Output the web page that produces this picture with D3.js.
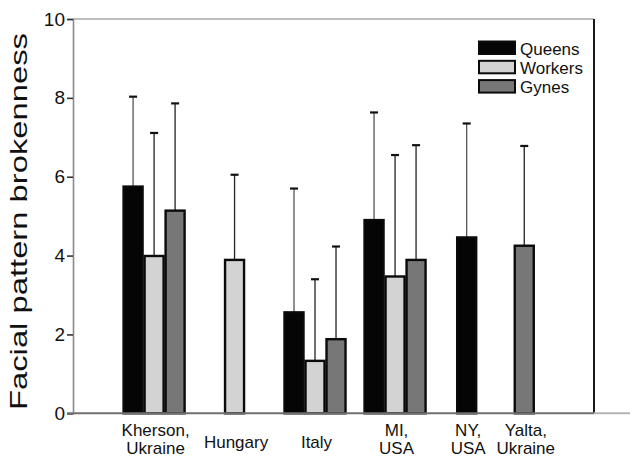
<!DOCTYPE html>
<html>
<head>
<meta charset="utf-8">
<script src="https://cdn.jsdelivr.net/npm/d3@7"></script>
<style>
  html, body { margin: 0; padding: 0; background: #fff; }
  svg { display: block; font-family: Arial, "Liberation Sans", sans-serif; }
</style>
</head>
<body>
<svg id="chart" width="630" height="461"></svg>
<script>
// Sites (two-line labels are split on "\n")
const sites = ["Kherson,\nUkraine", "Hungary", "Italy", "MI,\nUSA", "NY,\nUSA", "Yalta,\nUkraine"];
const castes = ["Queens", "Workers", "Gynes"];

// Mean facial pattern brokenness per site (null = not sampled)
const queensMean  = [5.75, null, 2.56, 4.90, 4.46, null];
const workersMean = [3.99, 3.89, 1.33, 3.47, null, null];
const gynesMean   = [5.14, null, 1.88, 3.89, null, 4.25];

// Upper end of the error bar (mean + SD)
const queensUpper  = [8.03, null, 5.70, 7.63, 7.35, null];
const workersUpper = [7.11, 6.05, 3.40, 6.55, null, null];
const gynesUpper   = [7.86, null, 4.23, 6.80, null, 6.78];

const yTicks = [0, 2, 4, 6, 8, 10];
const yLabel = "Facial pattern brokenness";

// ---- layout ----
const W = 630, H = 461;
const plot = { left: 73, right: 594, top: 19, bottom: 413.3 };
const barSlots = 24.8;                 // plot width measured in bar widths
const siteSlots = [3.86, 7.69, 11.52, 15.33, 18.74, 21.48]; // group centres, in bar widths
const fills = { Queens: "#050505", Workers: "#d3d3d3", Gynes: "#777777" };

const svg = d3.select("#chart");

const y = d3.scaleLinear().domain([0, 10]).range([plot.bottom, plot.top]);
const slot = d3.scaleLinear().domain([0, barSlots]).range([plot.left, plot.right]);
const barW = slot(1) - slot(0);
const siteX = d3.scaleOrdinal().domain(sites).range(siteSlots);

const means = { Queens: queensMean, Workers: workersMean, Gynes: gynesMean };
const uppers = { Queens: queensUpper, Workers: workersUpper, Gynes: gynesUpper };

// Flatten into one record per drawn bar, centring the bars present at each site
const bars = [];
sites.forEach((s, si) => {
  const present = castes.filter(c => means[c][si] != null);
  present.forEach((c, k) => {
    const centre = siteX(s) + (k - (present.length - 1) / 2);
    bars.push({ site: s, caste: c, mean: means[c][si], upper: uppers[c][si], centre });
  });
});

// ---- frame ----
svg.append("line").attr("x1", plot.left).attr("x2", plot.right)
  .attr("y1", plot.top).attr("y2", plot.top)
  .attr("stroke", "#a8a8a8").attr("stroke-width", 1.6);
svg.append("line").attr("x1", plot.right).attr("x2", plot.right)
  .attr("y1", plot.top).attr("y2", plot.bottom)
  .attr("stroke", "#1a1a1a").attr("stroke-width", 2);

// ---- error bars (upward only) ----
const eb = svg.append("g").attr("class", "error-bars");
eb.selectAll("line.stem").data(bars).join("line")
  .attr("class", "stem")
  .attr("x1", d => slot(d.centre)).attr("x2", d => slot(d.centre))
  .attr("y1", d => y(d.mean)).attr("y2", d => y(d.upper))
  .attr("stroke", d => d.caste === "Queens" ? "#555" : "#222")
  .attr("stroke-width", 1.3);
eb.selectAll("line.cap").data(bars).join("line")
  .attr("class", "cap")
  .attr("x1", d => slot(d.centre) - 4).attr("x2", d => slot(d.centre) + 4)
  .attr("y1", d => y(d.upper)).attr("y2", d => y(d.upper))
  .attr("stroke", "#111").attr("stroke-width", 2.2);

// ---- bars ----
svg.append("g").attr("class", "bars")
  .selectAll("rect").data(bars).join("rect")
  .attr("x", d => slot(d.centre - 0.5) + 1)
  .attr("width", barW - 2)
  .attr("y", d => y(d.mean))
  .attr("height", d => y(0) - y(d.mean))
  .attr("fill", d => fills[d.caste])
  .attr("stroke", "#0a0a0a").attr("stroke-width", 2.4);

// ---- y axis ----
const yAxis = svg.append("g")
  .attr("transform", `translate(${plot.left},0)`)
  .call(d3.axisLeft(y).tickValues(yTicks).tickSize(6).tickPadding(2).tickFormat(d3.format("d")));
yAxis.select(".domain").attr("stroke", "#8a8a8a").attr("stroke-width", 1.6);
yAxis.selectAll(".tick line").attr("stroke", "#333").attr("stroke-width", 1.6);
yAxis.selectAll(".tick text")
  .attr("fill", "#111").style("font-size", "19px")
  .style("font-family", "Arial, 'Liberation Sans', sans-serif");

// baseline
svg.append("line").attr("x1", plot.left - 6).attr("x2", plot.right)
  .attr("y1", y(0)).attr("y2", y(0))
  .attr("stroke", "#6f6f6f").attr("stroke-width", 2);
svg.append("line").attr("x1", plot.right).attr("x2", W)
  .attr("y1", y(0)).attr("y2", y(0))
  .attr("stroke", "#b5b5b5").attr("stroke-width", 2);

// y title
svg.append("text")
  .attr("transform", `translate(27,${(33 + 410) / 2}) rotate(-90)`)
  .attr("text-anchor", "middle")
  .attr("textLength", 377).attr("lengthAdjust", "spacingAndGlyphs")
  .style("font-size", "24px").attr("fill", "#111")
  .text(yLabel);

// ---- category labels ----
const lab = svg.append("g").attr("class", "site-labels")
  .selectAll("text").data(sites).join("text")
  .attr("text-anchor", "middle")
  .attr("x", d => slot(siteX(d)) + 1.5)
  .attr("y", d => d.includes("\n") ? 436 : 447.5)
  .style("font-size", "17px").attr("fill", "#111");
lab.each(function(d) {
  const parts = d.split("\n");
  const t = d3.select(this);
  parts.forEach((p, i) => {
    t.append("tspan").attr("x", t.attr("x")).attr("dy", i === 0 ? 0 : 18).text(p);
  });
});

// ---- legend ----
const lg = svg.append("g").attr("class", "legend");
castes.forEach((c, i) => {
  lg.append("rect")
    .attr("x", 479).attr("y", 41.5 + i * 19.3)
    .attr("width", 36).attr("height", 12.5)
    .attr("fill", fills[c]).attr("stroke", "#0a0a0a").attr("stroke-width", 2);
  lg.append("text")
    .attr("x", 520).attr("y", 54.5 + i * 19.3)
    .style("font-size", "17px").attr("fill", "#111")
    .text(c);
});
</script>
</body>
</html>
